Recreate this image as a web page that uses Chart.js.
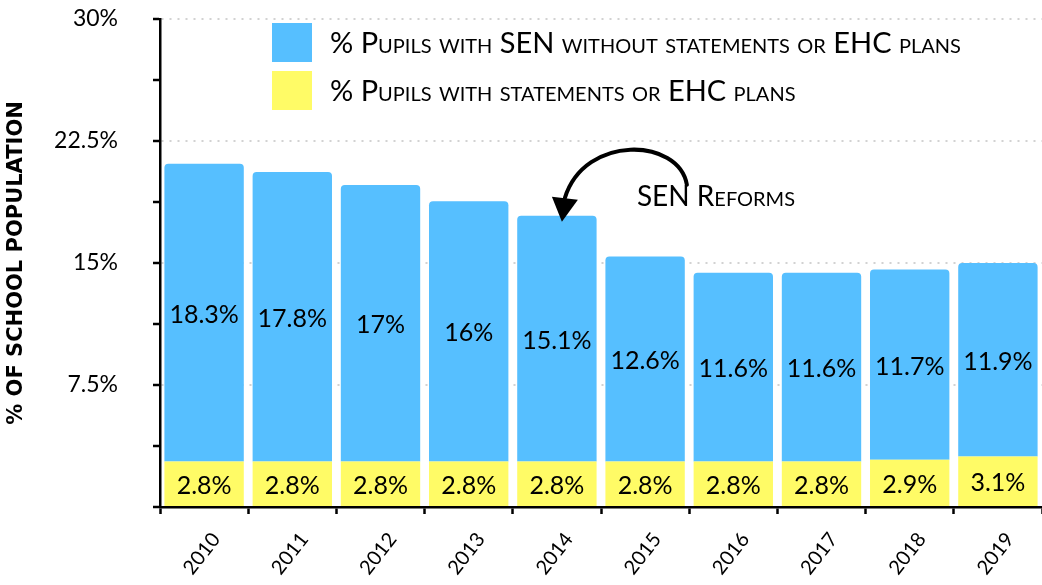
<!DOCTYPE html>
<html lang="en">
<head>
<meta charset="UTF-8">
<title>Pupils with SEN</title>
<script src="https://cdn.jsdelivr.net/npm/chart.js"></script>
<style>
    html, body { margin: 0; padding: 0; background: #fff; }
    #wrap { width: 1042px; height: 585px; }
</style>
</head>
<body>
<div id="wrap"><canvas id="chart"></canvas></div>
<script>
// data
const years = ['2010', '2011', '2012', '2013', '2014', '2015', '2016', '2017', '2018', '2019'];
const withoutPlans = [18.3, 17.8, 17, 16, 15.1, 12.6, 11.6, 11.6, 11.7, 11.9];
const withPlans = [2.8, 2.8, 2.8, 2.8, 2.8, 2.8, 2.8, 2.8, 2.9, 3.1];
const seriesNames = [
    '% Pupils with SEN without statements or EHC plans',
    '% Pupils with statements or EHC plans'
];
const yLabelTicks = [7.5, 15, 22.5, 30];
const reformYear = '2014';
const reformText = 'SEN Reforms';

const BLUE = '#56bfff';
const YELLOW = '#fffb66';
const FONT = 'Lato, "Open Sans", sans-serif';

// value labels in the middle of each segment
const segmentLabels = {
    id: 'segmentLabels',
    afterDatasetsDraw(chart) {
        const ctx = chart.ctx;
        ctx.save();
        ctx.font = '25px ' + FONT;
        ctx.fillStyle = '#000';
        ctx.textAlign = 'center';
        ctx.textBaseline = 'middle';
        chart.data.datasets.forEach((ds, di) => {
            chart.getDatasetMeta(di).data.forEach((bar, i) => {
                const p = bar.getProps(['x', 'y', 'base'], true);
                ctx.fillText(ds.data[i] + '%', p.x, (p.y + p.base) / 2 + 2);
            });
        });
        ctx.restore();
    }
};

// legend inside the plot, small caps like the original
const insideLegend = {
    id: 'insideLegend',
    afterDraw(chart) {
        const ctx = chart.ctx;
        const area = chart.chartArea;
        const left = area.left + 112;
        let top = area.top + 4;
        ctx.save();
        ctx.font = 'small-caps 29px ' + FONT;
        ctx.textBaseline = 'middle';
        const order = [1, 0];
        order.forEach(di => {
            const ds = chart.data.datasets[di];
            ctx.fillStyle = ds.backgroundColor;
            ctx.fillRect(left, top, 40, 39);
            ctx.fillStyle = '#000';
            ctx.fillText(ds.label, left + 58, top + 21);
            top += 48;
        });
        ctx.restore();
    }
};

// curved arrow pointing at the reform year
const reformArrow = {
    id: 'reformArrow',
    afterDraw(chart) {
        const ctx = chart.ctx;
        const i = years.indexOf(reformYear);
        const x = chart.scales.x.getPixelForValue(i);
        const top = chart.scales.y.getPixelForValue(withoutPlans[i] + withPlans[i]);
        ctx.save();
        ctx.strokeStyle = '#000';
        ctx.fillStyle = '#000';
        ctx.lineWidth = 4;
        ctx.lineCap = 'round';
        ctx.beginPath();
        ctx.moveTo(x + 130, top - 31);
        ctx.bezierCurveTo(x + 122, top - 78, x + 28, top - 82, x + 8, top - 18);
        ctx.stroke();
        ctx.beginPath();
        ctx.moveTo(x + 5, top + 6);
        ctx.lineTo(x - 5, top - 19);
        ctx.lineTo(x + 21, top - 16);
        ctx.closePath();
        ctx.fill();
        ctx.font = 'small-caps 28px ' + FONT;
        ctx.textBaseline = 'middle';
        ctx.fillText(reformText, x + 80, top - 19);
        ctx.restore();
    }
};

new Chart(document.getElementById('chart'), {
    type: 'bar',
    data: {
        labels: years,
        datasets: [
            {
                label: seriesNames[1],
                data: withPlans,
                backgroundColor: YELLOW,
                borderRadius: 0
            },
            {
                label: seriesNames[0],
                data: withoutPlans,
                backgroundColor: BLUE,
                borderRadius: { topLeft: 4, topRight: 4, bottomLeft: 0, bottomRight: 0 },
                borderSkipped: false
            }
        ]
    },
    options: {
        responsive: true,
        maintainAspectRatio: false,
        animation: false,
        layout: { padding: { top: 19, right: 0, left: 0, bottom: 0 } },
        datasets: { bar: { barPercentage: 0.9, categoryPercentage: 1 } },
        plugins: {
            legend: { display: false },
            tooltip: { enabled: false }
        },
        scales: {
            x: {
                stacked: true,
                afterFit: s => {
                    s.height = 78;
                    s.paddingLeft = 0;
                    s.paddingRight = 0;
                },
                border: { color: '#000', width: 2.5 },
                grid: {
                    offset: true,
                    drawOnChartArea: false,
                    tickColor: '#000',
                    tickWidth: 2.5,
                    tickLength: 7
                },
                ticks: {
                    color: '#000',
                    font: { family: FONT, size: 20 },
                    minRotation: 52,
                    maxRotation: 52,
                    padding: 14,
                    labelOffset: 12
                }
            },
            y: {
                stacked: true,
                min: 0,
                max: 30,
                afterFit: s => {
                    s.width = 160;
                    s.paddingTop = 0;
                    s.paddingBottom = 0;
                },
                border: { color: '#000', width: 2.5, dash: [2, 6] },
                grid: {
                    color: c => (c.tick && c.tick.value > 0 && yLabelTicks.includes(c.tick.value)) ? '#d2d2d2' : 'rgba(0,0,0,0)',
                    lineWidth: 2,
                    tickColor: '#000',
                    tickWidth: 2.5,
                    tickLength: 7
                },
                ticks: {
                    stepSize: 3.75,
                    color: '#000',
                    padding: 35,
                    font: { family: FONT, size: 23 },
                    callback: v => yLabelTicks.includes(v) ? v + '%' : ''
                },
                title: {
                    display: true,
                    text: '% OF SCHOOL POPULATION',
                    color: '#000',
                    font: { family: '"DejaVu Sans", sans-serif', size: 21, weight: 'bold' },
                    padding: { top: 4, bottom: 0 }
                }
            }
        }
    },
    plugins: [segmentLabels, insideLegend, reformArrow]
});
</script>
</body>
</html>
